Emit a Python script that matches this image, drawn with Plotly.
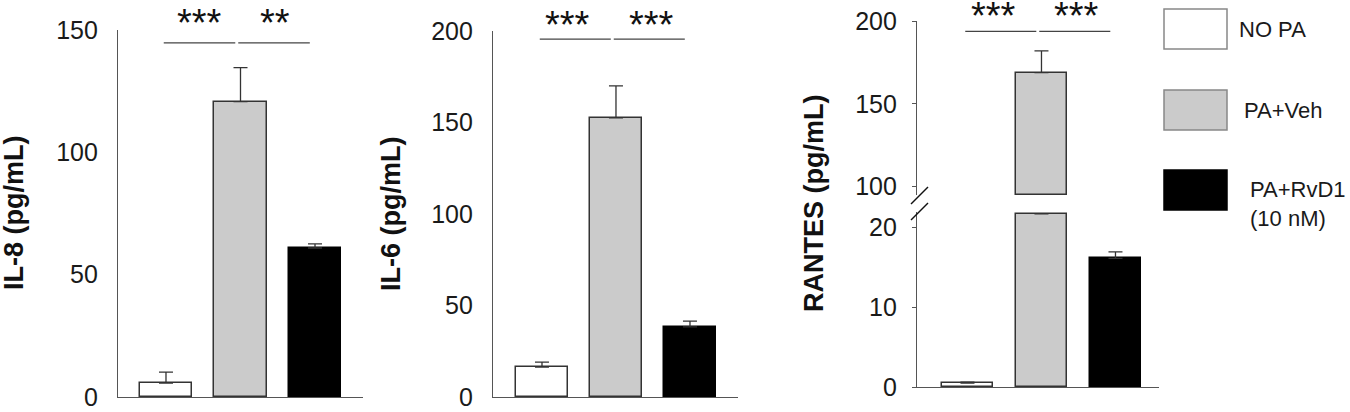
import plotly.graph_objects as go

# groups and values
groups = ["NO PA", "PA+Veh", "PA+RvD1 (10 nM)"]
fills = ["#ffffff", "#cbcbcb", "#000000"]
edges = ["#333333", "#333333", "#000000"]

il8 = [5.7, 120.7, 60.9]
il8_err = [4.5, 13.9, 1.7]

il6 = [16.4, 152.5, 38.3]
il6_err = [2.7, 17.5, 3.2]

rantes = [0.5, 168.8, 16.1]
rantes_err = [0.1, 13.2, 0.8]

# significance marks: (from, to, label)
sig_il8 = [(0, 1, "***"), (1, 2, "**")]
sig_il6 = [(0, 1, "***"), (1, 2, "***")]
sig_rantes = [(0, 1, "***"), (1, 2, "***")]

W, H = 1350, 412
FONT = "Liberation Sans, Arial, sans-serif"
AXIS = "#555555"
TXT = "#1a1a1a"


def px(x0, x1):
    return [x0 / W, x1 / W]


def py(top, bottom):
    return [1 - bottom / H, 1 - top / H]


fig = go.Figure()
xs = list(range(len(groups)))


def bars(y, err, xa, ya, base=None):
    fig.add_trace(go.Bar(
        x=xs, y=y, base=base, width=0.7,
        marker=dict(color=fills, line=dict(color=edges, width=1.5)),
        error_y=dict(type="data", symmetric=False, array=err,
                     arrayminus=[0] * len(y), color="#333333",
                     thickness=1.3, width=7),
        xaxis=xa, yaxis=ya, showlegend=False,
    ))


# panel 1 / panel 2
bars(il8, il8_err, "x", "y")
bars(il6, il6_err, "x2", "y2")

# panel 3, broken axis
lo_top, up_bot = 21.9, 95.0
lo_vals = [min(v, lo_top * 0.99) for v in rantes]
lo_err = [e if v < lo_top else None for v, e in zip(rantes, rantes_err)]
bars(lo_vals, lo_err, "x3", "y3")
up_vals = [v - up_bot if v > up_bot else None for v in rantes]
up_err = [e if v > up_bot else None for v, e in zip(rantes, rantes_err)]
bars(up_vals, up_err, "x4", "y4", base=up_bot)

xline = dict(showline=True, linecolor=AXIS, linewidth=1.3, showgrid=False,
             zeroline=False, showticklabels=False, ticks="", fixedrange=True,
             automargin=False)
yline = dict(showline=True, linecolor=AXIS, linewidth=1.3, showgrid=False,
             zeroline=False, automargin=False,
             tickfont=dict(family=FONT, size=25, color=TXT))

fig.update_layout(
    template="none",
    width=W, height=H, margin=dict(l=0, r=0, t=0, b=0, pad=0, autoexpand=False),
    plot_bgcolor="white", paper_bgcolor="white",
    bargap=0,
    xaxis=dict(xline, domain=px(118, 363), range=[-0.644, 2.644], anchor="y"),
    yaxis=dict(yline, domain=py(30, 397), range=[0, 150], tickvals=[0, 50, 100, 150],
               ticks="", ticklabelstandoff=14, anchor="x"),
    xaxis2=dict(xline, domain=px(493, 738), range=[-0.662, 2.649], anchor="y2"),
    yaxis2=dict(yline, domain=py(31, 397), range=[0, 200], tickvals=[0, 50, 100, 150, 200],
                ticks="", ticklabelstandoff=14, anchor="x2"),
    xaxis3=dict(xline, domain=px(917, 1159), range=[-0.682, 2.588], anchor="y3"),
    yaxis3=dict(yline, domain=py(212, 387), range=[0, lo_top], tickvals=[0, 10, 20],
                ticks="outside", ticklen=4, tickcolor=AXIS, ticklabelstandoff=10, anchor="x3"),
    xaxis4=dict(xline, domain=px(917, 1159), range=[-0.682, 2.588], anchor="y4",
                showline=False),
    yaxis4=dict(yline, domain=py(21, 195), range=[up_bot, 200], tickvals=[100, 150, 200],
                ticks="outside", ticklen=4, tickcolor=AXIS, ticklabelstandoff=10, anchor="x4"),
)

shapes = []
annots = []


def sig(marks, xa, ya, yfrac, shift, xshifts):
    for (a, b, lab), dx in zip(marks, xshifts):
        shapes.append(dict(type="line", xref=xa, yref=ya + " domain",
                           x0=a - 0.03, x1=b - 0.07, y0=yfrac, y1=yfrac,
                           line=dict(color="#444444", width=1.3)))
        annots.append(dict(xref=xa, yref=ya + " domain", x=(a + b) / 2 - 0.05, y=yfrac,
                           text=lab, showarrow=False, yanchor="bottom", yshift=shift,
                           xshift=dx, font=dict(family=FONT, size=38, color="#111111")))


sig(sig_il8, "x", "y", 0.965, -3, [0, 1])
sig(sig_il6, "x2", "y2", 0.978, -9, [-8, 2])
sig(sig_rantes, "x4", "y4", 0.94, -8, [-7, 2])

# axis break marks
for y0 in (204, 220):
    shapes.append(dict(type="line", xref="paper", yref="paper",
                       x0=911 / W, x1=928 / W, y0=1 - y0 / H, y1=1 - (y0 - 17) / H,
                       line=dict(color="#111111", width=1.5)))

# y titles
for text, cx, cy in [("IL-8 (pg/mL)", 14, 213), ("IL-6 (pg/mL)", 391, 214),
                     ("RANTES (pg/mL)", 814, 204)]:
    annots.append(dict(xref="paper", yref="paper", x=cx / W, y=1 - cy / H, text=text,
                       textangle=-90, showarrow=False, xanchor="center", yanchor="middle",
                       font=dict(family=FONT, size=27, color="#111111", weight="bold")))

# legend
legend_rows = [(9, 49, 1237, 30, groups[0]), (90, 130, 1242, 110, groups[1]),
               (170, 210, 1248, 204, "PA+RvD1<br>(10 nM)")]
for i, (t, b, lx, ly, lab) in enumerate(legend_rows):
    shapes.append(dict(type="rect", xref="paper", yref="paper",
                       x0=1164 / W, x1=1227 / W, y0=1 - b / H, y1=1 - t / H,
                       fillcolor=fills[i], line=dict(color="#888888" if i < 2 else "#000000", width=1.5)))
    annots.append(dict(xref="paper", yref="paper", x=lx / W, y=1 - ly / H, text=lab,
                       showarrow=False, xanchor="left", yanchor="middle", align="left",
                       font=dict(family=FONT, size=22, color=TXT)))

fig.update_layout(shapes=shapes, annotations=annots)
fig.write_html("out.html", config={"displayModeBar": False},
               post_script="document.body.style.margin='0px';")
